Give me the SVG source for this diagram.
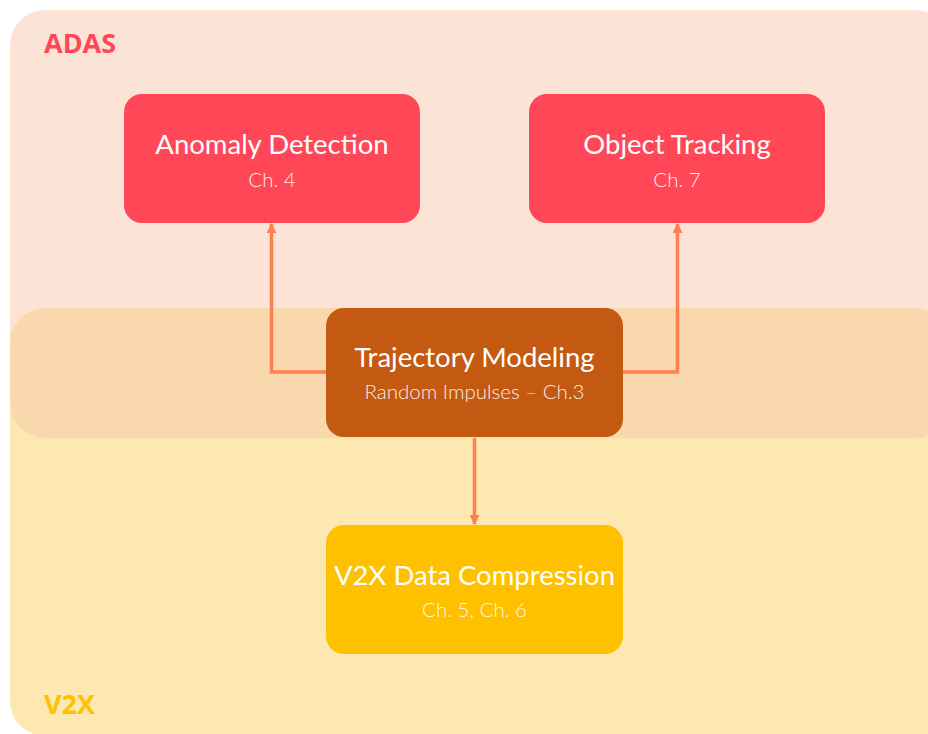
<svg xmlns="http://www.w3.org/2000/svg" width="928" height="734" viewBox="0 0 928 734">
  <defs>
    <style>
      .title { font-family: Lato, "Open Sans", "Liberation Sans", sans-serif; font-size: 27.5px; fill: #ffffff; text-anchor: middle; }
      .sub { font-family: Lato, "Open Sans", "Liberation Sans", sans-serif; font-size: 20.5px; font-weight: 300; fill: #ffffff; fill-opacity: 0.92; text-anchor: middle; }
      .region-label { font-family: "Open Sans", "Liberation Sans", sans-serif; font-size: 27px; font-weight: 700; }
      .conn { fill: none; stroke: #FF7F50; stroke-width: 3.5; }
    </style>
    <marker id="arrow" viewBox="0 0 10 10" refX="9" refY="5" markerWidth="10" markerHeight="10" markerUnits="userSpaceOnUse" orient="auto">
      <path d="M0,0 L10,5 L0,10 Z" fill="#FF7F50"/>
    </marker>
    <clipPath id="v2xclip">
      <rect x="10" y="308" width="940" height="430" rx="35" ry="35"/>
    </clipPath>
  </defs>

  <g id="region-adas">
    <rect x="10" y="10" width="940" height="428" rx="35" ry="35" fill="#FBE3D6"/>
    <text class="region-label" x="44" y="53" fill="#FF4757">ADAS</text>
  </g>
  <g id="region-v2x">
    <rect x="10" y="308" width="940" height="428" rx="35" ry="35" fill="#FEE8B2"/>
    <rect x="10" y="10" width="940" height="428" rx="35" ry="35" fill="#F9D8AD" clip-path="url(#v2xclip)"/>
    <text class="region-label" x="44" y="714" fill="#FFC000">V2X</text>
  </g>

  <g id="connectors">
    <path class="conn" d="M326,372 H271.5 V224" marker-end="url(#arrow)"/>
    <path class="conn" d="M623,372 H677.5 V224" marker-end="url(#arrow)"/>
    <path class="conn" d="M474.5,438 V524" marker-end="url(#arrow)"/>
  </g>

  <g id="node-anomaly">
    <rect x="124" y="94" width="296" height="129" rx="18" ry="18" fill="#FF4757"/>
    <text class="title" x="272" y="154">Anomaly Detection</text>
    <text class="sub" x="272" y="187">Ch. 4</text>
  </g>
  <g id="node-tracking">
    <rect x="529" y="94" width="296" height="129" rx="18" ry="18" fill="#FF4757"/>
    <text class="title" x="677" y="154">Object Tracking</text>
    <text class="sub" x="677" y="187">Ch. 7</text>
  </g>
  <g id="node-trajectory">
    <rect x="326" y="308" width="297" height="129" rx="18" ry="18" fill="#C45A12"/>
    <text class="title" x="474.5" y="367">Trajectory Modeling</text>
    <text class="sub" x="474.5" y="399">Random Impulses – Ch.3</text>
  </g>
  <g id="node-v2x">
    <rect x="326" y="525" width="297" height="129" rx="18" ry="18" fill="#FFC000"/>
    <text class="title" x="474.5" y="585">V2X Data Compression</text>
    <text class="sub" x="474.5" y="617">Ch. 5, Ch. 6</text>
  </g>
</svg>
